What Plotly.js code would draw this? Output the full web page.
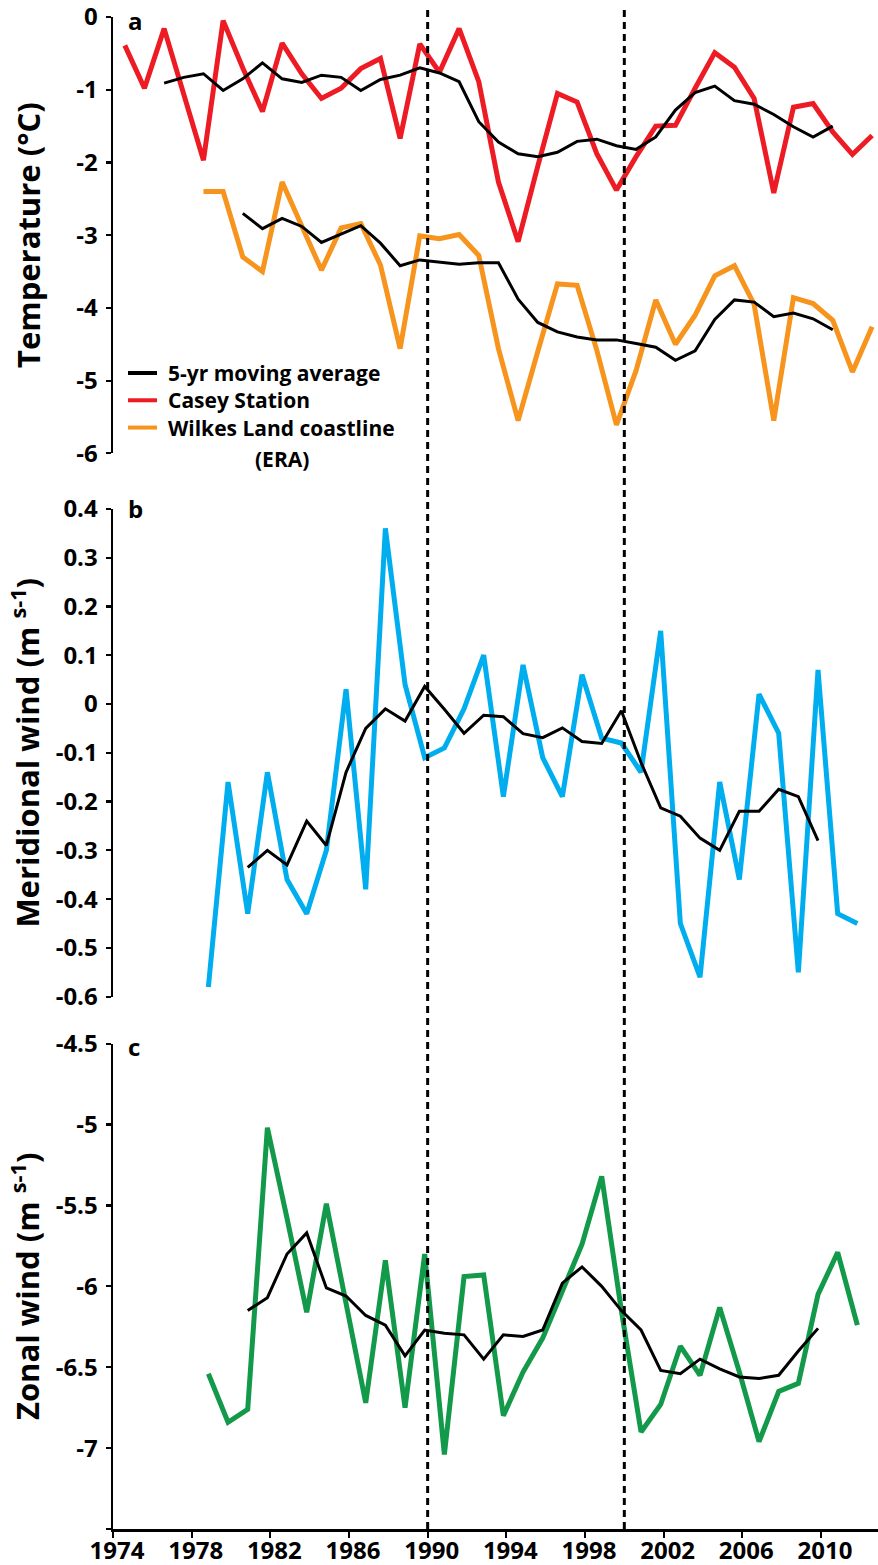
<!DOCTYPE html>
<html>
<head>
<meta charset="utf-8">
<script src="https://cdn.plot.ly/plotly-3.0.1.min.js"></script>
<style>
html,body{margin:0;padding:0;background:#ffffff;}
#chart{width:878px;height:1565px;}
</style>
</head>
<body>
<div id="chart"></div>
<script>
// ---------------- DATA ----------------
// Panel a: temperature (°C)
const caseyYears = [1974,1975,1976,1977,1978,1979,1980,1981,1982,1983,1984,1985,1986,1987,1988,1989,1990,1991,1992,1993,1994,1995,1996,1997,1998,1999,2000,2001,2002,2003,2004,2005,2006,2007,2008,2009,2010,2011,2012];
const caseyTemp = [-0.39,-0.98,-0.16,-1.05,-1.97,-0.05,-0.70,-1.30,-0.36,-0.78,-1.12,-0.98,-0.71,-0.57,-1.67,-0.37,-0.76,-0.16,-0.89,-2.27,-3.09,-2.05,-1.05,-1.17,-1.88,-2.38,-1.92,-1.50,-1.49,-0.98,-0.49,-0.69,-1.12,-2.42,-1.24,-1.19,-1.58,-1.89,-1.63];
const caseyMAYears = [1976,1977,1978,1979,1980,1981,1982,1983,1984,1985,1986,1987,1988,1989,1990,1991,1992,1993,1994,1995,1996,1997,1998,1999,2000,2001,2002,2003,2004,2005,2006,2007,2008,2009,2010];
const caseyMA = [-0.91,-0.83,-0.78,-1.01,-0.85,-0.63,-0.85,-0.90,-0.80,-0.83,-1.01,-0.86,-0.80,-0.70,-0.77,-0.89,-1.44,-1.72,-1.88,-1.92,-1.86,-1.71,-1.68,-1.77,-1.82,-1.65,-1.28,-1.04,-0.95,-1.15,-1.20,-1.34,-1.51,-1.65,-1.50];

const wilkesYears = [1978,1979,1980,1981,1982,1983,1984,1985,1986,1987,1988,1989,1990,1991,1992,1993,1994,1995,1996,1997,1998,1999,2000,2001,2002,2003,2004,2005,2006,2007,2008,2009,2010,2011,2012];
const wilkesTemp = [-2.40,-2.40,-3.30,-3.50,-2.27,-2.89,-3.48,-2.90,-2.84,-3.41,-4.56,-3.01,-3.05,-2.99,-3.28,-4.56,-5.55,-4.60,-3.67,-3.69,-4.58,-5.61,-4.86,-3.89,-4.50,-4.10,-3.56,-3.42,-3.95,-5.55,-3.86,-3.94,-4.17,-4.88,-4.26];
const wilkesMAYears = [1980,1981,1982,1983,1984,1985,1986,1987,1988,1989,1990,1991,1992,1993,1994,1995,1996,1997,1998,1999,2000,2001,2002,2003,2004,2005,2006,2007,2008,2009,2010];
const wilkesMA = [-2.70,-2.91,-2.77,-2.88,-3.10,-2.99,-2.87,-3.11,-3.42,-3.34,-3.37,-3.40,-3.38,-3.38,-3.88,-4.20,-4.33,-4.40,-4.44,-4.44,-4.49,-4.54,-4.72,-4.59,-4.16,-3.89,-3.92,-4.12,-4.07,-4.15,-4.30];

// Panels b and c: winds (m s-1)
const windYears = [1979,1980,1981,1982,1983,1984,1985,1986,1987,1988,1989,1990,1991,1992,1993,1994,1995,1996,1997,1998,1999,2000,2001,2002,2003,2004,2005,2006,2007,2008,2009,2010,2011,2012];
const meridionalWind = [-0.58,-0.16,-0.43,-0.14,-0.36,-0.43,-0.30,0.03,-0.38,0.36,0.04,-0.11,-0.09,-0.01,0.10,-0.19,0.08,-0.11,-0.19,0.06,-0.07,-0.08,-0.14,0.15,-0.45,-0.56,-0.16,-0.36,0.02,-0.06,-0.55,0.07,-0.43,-0.45];
const windMAYears = [1981,1982,1983,1984,1985,1986,1987,1988,1989,1990,1991,1992,1993,1994,1995,1996,1997,1998,1999,2000,2001,2002,2003,2004,2005,2006,2007,2008,2009,2010];
const meridionalMA = [-0.335,-0.30,-0.33,-0.24,-0.29,-0.14,-0.05,-0.01,-0.035,0.036,-0.011,-0.06,-0.023,-0.026,-0.061,-0.069,-0.049,-0.077,-0.081,-0.014,-0.12,-0.213,-0.23,-0.275,-0.30,-0.22,-0.22,-0.175,-0.19,-0.28];
const zonalWind = [-6.54,-6.84,-6.76,-5.02,-5.58,-6.16,-5.49,-6.10,-6.72,-5.84,-6.75,-5.80,-7.04,-5.94,-5.93,-6.80,-6.53,-6.32,-6.03,-5.74,-5.32,-6.15,-6.90,-6.73,-6.37,-6.55,-6.13,-6.53,-6.96,-6.65,-6.60,-6.05,-5.79,-6.24];
const zonalMA = [-6.15,-6.07,-5.80,-5.67,-6.01,-6.06,-6.18,-6.24,-6.43,-6.27,-6.29,-6.30,-6.45,-6.30,-6.31,-6.27,-5.98,-5.88,-6.00,-6.15,-6.27,-6.52,-6.54,-6.45,-6.51,-6.56,-6.57,-6.55,-6.40,-6.26];

// Axes / annotations
const markerYears = [1990, 2000];
const xTickYears = [1974,1978,1982,1986,1990,1994,1998,2002,2006,2010];
const xTickText = ['1974','1978','1982','1986','1990','1994','1998','2002','2006','2010'];
const tempTicks = [0,-1,-2,-3,-4,-5,-6];
const tempTickText = ['0','-1','-2','-3','-4','-5','-6'];
const merTicks = [0.4,0.3,0.2,0.1,0,-0.1,-0.2,-0.3,-0.4,-0.5,-0.6];
const merTickText = ['0.4','0.3','0.2','0.1','0','-0.1','-0.2','-0.3','-0.4','-0.5','-0.6'];
const zonTicks = [-4.5,-5,-5.5,-6,-6.5,-7];
const zonTickText = ['-4.5','-5','-5.5','-6','-6.5','-7'];
const zonUnlabeledTicks = [-7.5];
const legendNames = ['5-yr moving average', 'Casey Station', 'Wilkes Land coastline'];
const legendNote = '(ERA)';

// ---------------- STYLE / LAYOUT ----------------
const FONT = '"Open Sans", "DejaVu Sans", sans-serif';
const RED = '#ED1C24', ORANGE = '#F7941D', BLUE = '#00AEEF', GREEN = '#12994A', BLACK = '#000000';
// plotting position of annual values in each panel
const shiftA = 0.6, shiftBC = -0.15;
const px = (arr, s) => arr.map(v => v + s);

const W = 878, H = 1565, mL = 113, mT = 17, mB = 35.5;
const plotW = W - mL, plotH = H - mT - mB;
const fy = p => (H - mB - p) / plotH;   // pixel row -> paper fraction
const fx = p => (p - mL) / plotW;       // pixel column -> paper fraction

const colW = 5, maW = 3;
const traces = [
  {x: px(caseyYears, shiftA), y: caseyTemp, xaxis:'x', yaxis:'y', mode:'lines', name:legendNames[1],
   line:{color:RED, width:colW}},
  {x: px(wilkesYears, shiftA), y: wilkesTemp, xaxis:'x', yaxis:'y', mode:'lines', name:legendNames[2],
   line:{color:ORANGE, width:colW}},
  {x: px(caseyMAYears, shiftA), y: caseyMA, xaxis:'x', yaxis:'y', mode:'lines', name:legendNames[0],
   line:{color:BLACK, width:maW}},
  {x: px(wilkesMAYears, shiftA), y: wilkesMA, xaxis:'x', yaxis:'y', mode:'lines', name:legendNames[0],
   line:{color:BLACK, width:maW}},
  {x: px(windYears, shiftBC), y: meridionalWind, xaxis:'x', yaxis:'y2', mode:'lines', name:'Meridional wind',
   line:{color:BLUE, width:colW}},
  {x: px(windMAYears, shiftBC), y: meridionalMA, xaxis:'x', yaxis:'y2', mode:'lines', name:legendNames[0],
   line:{color:BLACK, width:maW}},
  {x: px(windYears, shiftBC), y: zonalWind, xaxis:'x', yaxis:'y3', mode:'lines', name:'Zonal wind',
   line:{color:GREEN, width:colW}},
  {x: px(windMAYears, shiftBC), y: zonalMA, xaxis:'x', yaxis:'y3', mode:'lines', name:legendNames[0],
   line:{color:BLACK, width:maW}}
];

const tickFont = {family:FONT, size:24, color:BLACK, weight:700};
const titleFont = {family:FONT, size:31, color:BLACK, weight:700};
const yBase = {
  showline:true, linecolor:BLACK, linewidth:2.5, ticks:'outside', ticklen:5, tickwidth:2.2, tickcolor:BLACK,
  showgrid:false, zeroline:false, tickfont:tickFont, anchor:'x', ticklabelstandoff:3,
  ticklabeloverflow:'allow', fixedrange:true
};

// hand-built legend (panel a): one left-aligned text block, one line swatch per row
const legendFontSize = 21;
const legendRowGap = legendFontSize * 1.3;
const legendMid = 400.4;
const legendColors = [BLACK, RED, ORANGE];
const legendRows = legendColors.map((c, i) => legendMid + (i - 1) * legendRowGap);
const legendFont = {family:FONT, size:legendFontSize, color:BLACK, weight:700};
const legendShapes = legendColors.map((c, i) => ({type:'line', xref:'paper', yref:'paper',
  x0:fx(128), x1:fx(157), y0:fy(legendRows[i]), y1:fy(legendRows[i]), line:{color:c, width:4}}));
const legendAnns = [
  {text:legendNames.join('<br>'), xref:'paper', yref:'paper', x:fx(167), y:fy(legendMid), xanchor:'left',
   yanchor:'middle', align:'left', showarrow:false, borderpad:0, font:legendFont},
  {text:legendNote, xref:'paper', yref:'paper', x:fx(282), y:fy(459), xanchor:'center', yanchor:'middle',
   showarrow:false, borderpad:0, font:legendFont}
];

const letterFont = {family:FONT, size:24, color:BLACK, weight:700};
const letterAnns = [['a', 21], ['b', 509], ['c', 1047]].map(([t, p]) => ({text:t, xref:'paper', yref:'paper',
  x:fx(126), y:fy(p), xanchor:'left', yanchor:'middle', showarrow:false, font:letterFont}));

const layout = {
  width:W, height:H, margin:{l:mL, r:0, t:mT, b:mB},
  paper_bgcolor:'#fff', plot_bgcolor:'rgba(0,0,0,0)',
  font:{family:FONT, color:BLACK},
  showlegend:false,
  xaxis:{range:[1974, 2012.9], anchor:'y3', showline:true, linecolor:BLACK, linewidth:2.5,
         ticks:'outside', ticklen:6, tickwidth:2.2, tickcolor:BLACK, tickvals:xTickYears, ticktext:xTickText,
         tickfont:tickFont, ticklabelstandoff:-7, ticklabelshift:4, ticklabeloverflow:'allow',
         showgrid:false, zeroline:false, fixedrange:true},
  yaxis:Object.assign({}, yBase, {domain:[fy(453.5), fy(16.7)], range:[-6, 0], tickvals:tempTicks, ticktext:tempTickText,
         title:{text:'Temperature (°C)', font:titleFont, standoff:27}}),
  yaxis2:Object.assign({}, yBase, {domain:[fy(997), fy(509)], range:[-0.6, 0.4], tickvals:merTicks, ticktext:merTickText,
         title:{text:'Meridional wind (m <sup>s-1</sup>)', font:titleFont, standoff:7}}),
  yaxis3:Object.assign({}, yBase, {domain:[0, fy(1044)], range:[-7.5, -4.5], tickvals:zonTicks, ticktext:zonTickText,
         minor:{tickvals:zonUnlabeledTicks, ticks:'outside', ticklen:5, tickwidth:2.2, tickcolor:BLACK, showgrid:false},
         title:{text:'Zonal wind (m <sup>s-1</sup>)', font:titleFont, standoff:7}}),
  shapes: markerYears.map(yr => ({type:'line', xref:'x', yref:'paper', x0:yr, x1:yr, y0:0, y1:fy(8),
         line:{color:BLACK, width:3, dash:'7px,5px'}, layer:'above'})).concat(legendShapes),
  annotations: letterAnns.concat(legendAnns)
};

Plotly.newPlot('chart', traces, layout, {displayModeBar:false, staticPlot:true});
</script>
</body>
</html>
